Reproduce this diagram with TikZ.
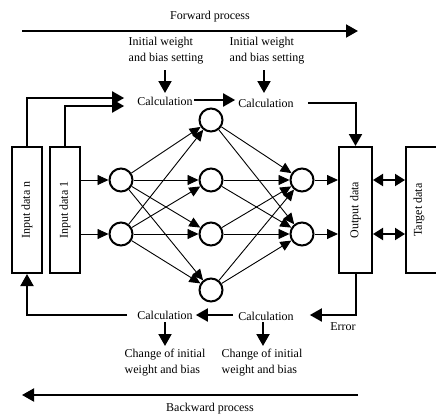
\documentclass[tikz,border=0pt]{standalone}
\usepackage{fontspec}
\setmainfont{Liberation Serif}
\usetikzlibrary{arrows.meta}
\begin{document}
\begin{tikzpicture}[x=1pt,y=-1pt,
 big/.style={-{Triangle[length=12pt,width=13pt]}, line width=2pt},
 dbl/.style={{Triangle[length=10pt,width=12pt]}-{Triangle[length=10pt,width=12pt]}, line width=2pt},
 net/.style={-{Triangle[length=11pt,width=10pt]}, line width=0.9pt},
 neuron/.style={circle, draw, line width=2pt, minimum size=23pt, inner sep=0pt},
 databox/.style={draw, line width=2pt, minimum width=30pt, minimum height=126pt, inner sep=0pt},
 lbl/.style={font=\fontsize{12}{16}\selectfont, inner sep=1pt},
 lblL/.style={lbl, align=left}
]
\useasboundingbox (0,0) rectangle (436,418);
\clip (0,0) rectangle (436,418);

% forward process
\node[lbl] (fwd) at (210,17) {Forward process};
\coordinate (f1) at (22,31); \coordinate (f2) at (358,31);
\draw[big] (f1) -- (f2);

\node[lblL] (iw1) at (166,51) {Initial weight\\and bias setting};
\node[lblL] (iw2) at (267,51) {Initial weight\\and bias setting};
\node[lbl] (ca1) at (165,101) {Calculation};
\node[lbl] (ca2) at (266,103) {Calculation};
\coordinate (d1a) at (165,70); \coordinate (d1b) at (165,93);
\coordinate (d2a) at (264,70); \coordinate (d2b) at (264,93);
\draw[big] (d1a) -- (d1b);
\draw[big] (d2a) -- (d2b);
\draw[big, shorten >=2pt] (ca1.east |- 0,100) -- (ca2.west |- 0,100);

% boxes
\node[databox] (inN) at (27,210) {};
\node[lbl, rotate=90] (tN) at (inN) {Input data n};
\node[databox] (in1) at (65,210) {};
\node[lbl, rotate=90] (t1) at (in1) {Input data 1};
\node[databox, minimum width=33pt] (out) at (355.5,210) {};
\node[lbl, rotate=90] (tout) at (out) {Output data};
\node[databox, minimum width=33pt] (tgt) at (422.5,210) {};
\node[lbl, rotate=90] (ttgt) at (419,210) {Target data};

% input lines
\draw[big, shorten >=12pt] (inN.north) |- (ca1.west |- 0,98);
\draw[big, shorten >=12pt] (in1.north) |- (ca1.west |- 0,106);
\draw[big, shorten <=13pt] (ca2.east) -| (out.north);

% neurons
\node[neuron] (a1) at (121,180) {};
\node[neuron] (a2) at (121,234) {};
\node[neuron] (b1) at (211,120) {};
\node[neuron] (b2) at (211,180) {};
\node[neuron] (b3) at (211,234) {};
\node[neuron] (b4) at (211,290) {};
\node[neuron] (c1) at (302,180) {};
\node[neuron] (c2) at (302,234) {};

\draw[net] (in1.east |- a1) -- (a1);
\draw[net] (in1.east |- a2) -- (a2);
\foreach \a in {a1,a2}{
  \foreach \b in {b1,b2,b3,b4}{
    \draw[net] (\a) -- (\b);
  }
}
\foreach \b in {b1,b2,b3,b4}{
  \foreach \c in {c1,c2}{
    \draw[net] (\b) -- (\c);
  }
}
\draw[net] (c1) -- (out.west |- c1);
\draw[net] (c2) -- (out.west |- c2);
\draw[dbl] (out.east |- c1) -- (tgt.west |- c1);
\draw[dbl] (out.east |- c2) -- (tgt.west |- c2);

% backward
\node[lbl] (cb1) at (165,315) {Calculation};
\node[lbl] (cb2) at (266,316) {Calculation};
\node[lbl] (err) at (343,327) {Error};
\draw[big, shorten >=15pt] (out.south) |- (cb2.east |- 0,315);
\draw[big, shorten <=4pt, shorten >=2pt] (cb2.west |- 0,315) -- (cb1.east |- 0,315);
\draw[big, shorten <=9pt] (cb1.west |- 0,315) -| (inN.south);

\node[lblL] (ch1) at (165,363) {Change of initial\\weight and bias};
\node[lblL] (ch2) at (262,363) {Change of initial\\weight and bias};
\coordinate (e1a) at (165,322); \coordinate (e1b) at (165,346);
\coordinate (e2a) at (263,322); \coordinate (e2b) at (263,346);
\draw[big] (e1a) -- (e1b);
\draw[big] (e2a) -- (e2b);

\coordinate (g1) at (358,395); \coordinate (g2) at (22,395);
\draw[big] (g1) -- (g2);
\node[lbl] (bwd) at (210,409) {Backward process};
\end{tikzpicture}
\end{document}
